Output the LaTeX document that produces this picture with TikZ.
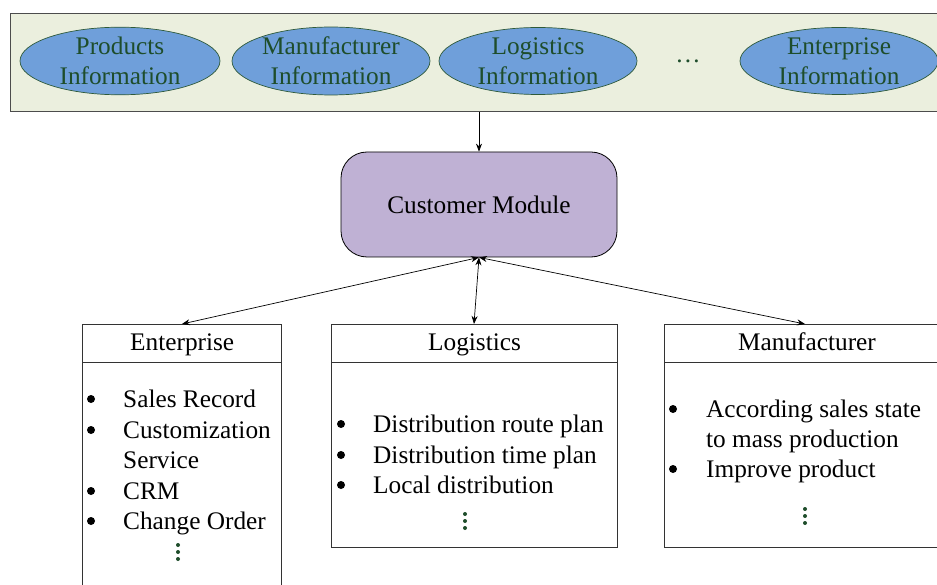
\documentclass[tikz,border=0pt]{standalone}
\usepackage{fontspec}
\setmainfont{Liberation Serif}
\usetikzlibrary{arrows.meta,shapes.geometric}
\definecolor{panelfill}{HTML}{EBEFDE}
\definecolor{ellfill}{HTML}{6F9FDA}
\definecolor{ellborder}{HTML}{2E5A3A}
\definecolor{elltext}{HTML}{1E4D2B}
\definecolor{cmfill}{HTML}{BFB1D4}
\definecolor{dotgreen}{HTML}{1E4D2B}
\tikzset{
  txt/.style={font=\fontsize{25.3}{30}\selectfont},
  panelbox/.style={draw=black!70, line width=0.9pt, fill=panelfill, inner sep=0pt, anchor=north west},
  infoell/.style={ellipse, draw=ellborder, line width=0.7pt, fill=ellfill, inner sep=0pt, text=elltext, align=center, font=\fontsize{25.3}{30}\selectfont},
  cmbox/.style={draw=black, line width=0.8pt, fill=cmfill, rounded corners=26pt, inner sep=0pt, font=\fontsize{25.3}{30}\selectfont},
  hdr/.style={draw=black!80, line width=0.8pt, fill=white, inner sep=0pt, anchor=north west},
  item/.style={txt, anchor=base west, inner sep=0pt},
  bul/.style={circle, fill=black, inner sep=0pt, minimum size=8pt},
  vdot/.style={circle, fill=dotgreen, inner sep=0pt, minimum size=4pt},
  arr/.style={-{Stealth[length=8pt,width=6pt]}, line width=0.7pt},
  dblarr/.style={{Stealth[length=8pt,width=6pt]}-{Stealth[length=8pt,width=6pt]}, line width=0.7pt},
}
\begin{document}
\begin{tikzpicture}[x=1pt,y=-1pt]
\useasboundingbox (0,0) rectangle (937,585);
% top panel
\node[panelbox, minimum width=945pt, minimum height=98pt] (panel) at (10,13) {};
\node[infoell, minimum width=200pt, minimum height=67pt] (e1) at (120,61) {Products\\Information};
\node[infoell, minimum width=198pt, minimum height=67pt] (e2) at (331,61) {Manufacturer\\Information};
\node[infoell, minimum width=198pt, minimum height=67pt] (e3) at (538,61) {Logistics\\Information};
\node[txt, text=elltext] (edots) at (688,61) {\dots};
\node[infoell, minimum width=198pt, minimum height=67pt] (e4) at (839,61) {Enterprise\\Information};
% customer module
\node[cmbox, minimum width=276pt, minimum height=105pt] (cm) at (479,204.5) {Customer Module};
\draw[arr] (cm.north |- panel.south) -- (cm.north);
% boxes
\node[hdr, minimum width=199pt, minimum height=38pt] (enth) at (82,324) {};
\node[hdr, minimum width=199pt, minimum height=240pt] (entb) at (82,362) {};
\node[item] at (130,350) {Enterprise};
\node[hdr, minimum width=286pt, minimum height=38pt] (logh) at (331,324) {};
\node[hdr, minimum width=286pt, minimum height=185pt] (logb) at (331,362) {};
\node[item] at (428,350) {Logistics};
\node[hdr, minimum width=290pt, minimum height=38pt] (manh) at (664,324) {};
\node[hdr, minimum width=290pt, minimum height=185pt] (manb) at (664,362) {};
\node[item] at (738,350) {Manufacturer};
% connectors
\draw[dblarr] (cm.south) -- (enth.north);
\draw[dblarr] (cm.south) -- (474,324);
\draw[dblarr] (cm.south) -- (805,324);
% enterprise items
\node[bul] at (91,399) {}; \node[item] at (123,407) {Sales Record};
\node[bul] at (91,430) {}; \node[item] at (123,438) {Customization};
\node[item] at (123,468) {Service};
\node[bul] at (91,491) {}; \node[item] at (123,499) {CRM};
\node[bul] at (91,521) {}; \node[item] at (123,529) {Change Order};
\node[vdot] at (178,545) {}; \node[vdot] at (178,552) {}; \node[vdot] at (178,559) {};
% logistics items
\node[bul] at (341,424) {}; \node[item] at (373,432) {Distribution route plan};
\node[bul] at (341,455) {}; \node[item] at (373,463) {Distribution time plan};
\node[bul] at (341,485) {}; \node[item] at (373,493) {Local distribution};
\node[vdot] at (465,514) {}; \node[vdot] at (465,521) {}; \node[vdot] at (465,528) {};
% manufacturer items
\node[bul] at (673,409) {}; \node[item] at (706,417) {According sales state};
\node[item] at (706,447) {to mass production};
\node[bul] at (673,469) {}; \node[item] at (706,477) {Improve product};
\node[vdot] at (805,509) {}; \node[vdot] at (805,516) {}; \node[vdot] at (805,523) {};
\end{tikzpicture}
\end{document}
